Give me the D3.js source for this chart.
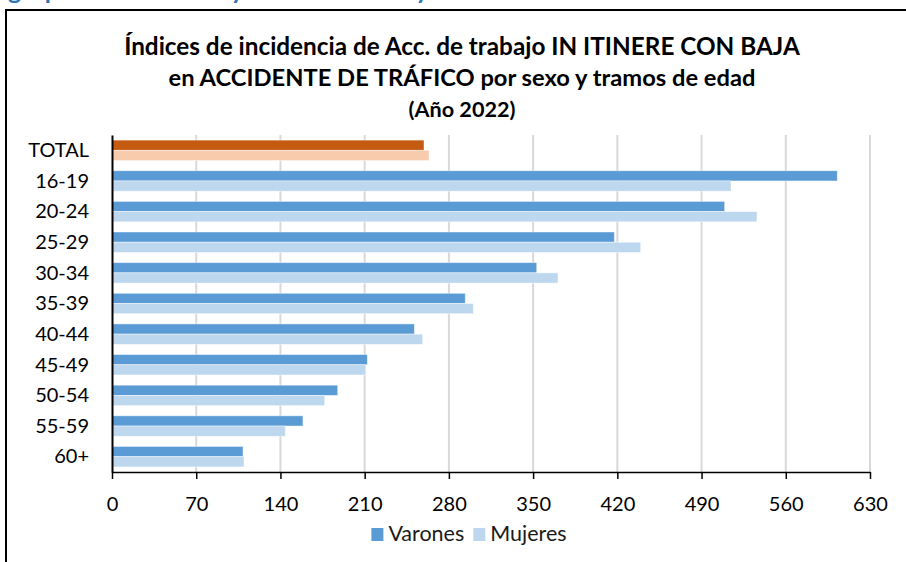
<!DOCTYPE html>
<html lang="es">
<head>
<meta charset="utf-8">
<script src="https://cdn.jsdelivr.net/npm/d3@7"></script>
<style>
  html, body { margin: 0; padding: 0; background: #fff; }
  svg { display: block; font-family: Lato, "Open Sans", sans-serif; }
</style>
</head>
<body>
<svg id="chart" width="906" height="562"></svg>
<script>
// Age groups (first row is the overall total)
const categories = ["TOTAL", "16-19", "20-24", "25-29", "30-34", "35-39", "40-44", "45-49", "50-54", "55-59", "60+"];
// Incidence indices, men
const varones = [259.3, 602.8, 509.2, 417.5, 353.0, 293.6, 251.3, 212.2, 187.6, 158.7, 108.9];
// Incidence indices, women
const mujeres = [263.5, 514.5, 536.1, 439.4, 370.7, 300.3, 258.2, 210.9, 176.8, 144.0, 109.7];
const seriesNames = ["Varones", "Mujeres"];
const xTicks = [0, 70, 140, 210, 280, 350, 420, 490, 560, 630];

const titleLines = [
  "Índices de incidencia de Acc. de trabajo IN ITINERE CON BAJA",
  "en ACCIDENTE DE TRÁFICO por sexo y tramos de edad",
  "(Año 2022)"
];
const headingText = "grupos de actividad y tramo de edad y sexo";

const colors = {
  Varones: "#5B9BD5",
  Mujeres: "#BDD7EE",
  totalVarones: "#C55A11",
  totalMujeres: "#F8CBAD"
};

const svg = d3.select("#chart");

// Section heading above the chart frame (only its descenders reach the page)
const heading = svg.append("text")
  .attr("x", 8)
  .attr("y", -1)
  .attr("fill", "#2E74B5")
  .attr("font-weight", 700)
  .attr("font-size", 25)
  .text(headingText);
{
  const node = heading.node();
  const lastY = headingText.lastIndexOf("y");
  const w = node.getSubStringLength(0, lastY + 1);
  if (w > 0) heading.attr("font-size", 25 * 420 / w);
}

// Chart frame
svg.append("rect")
  .attr("x", 6).attr("y", 10)
  .attr("width", 1000).attr("height", 1000)
  .attr("fill", "#fff")
  .attr("stroke", "#000")
  .attr("stroke-width", 2);

// Title, each line fitted to its width
const titleSpecs = [
  { y: 55, size: 21, width: 676 },
  { y: 86, size: 21, width: 587 },
  { y: 117, size: 17, width: 107 }
];
titleLines.forEach((line, i) => {
  const s = titleSpecs[i];
  const t = svg.append("text")
    .attr("x", 462)
    .attr("y", s.y)
    .attr("text-anchor", "middle")
    .attr("font-weight", 700)
    .attr("font-size", s.size)
    .attr("fill", "#000")
    .text(line);
  const w = t.node().getComputedTextLength();
  if (w > 0) t.attr("font-size", s.size * s.width / w);
});

// Scales
const x = d3.scaleLinear().domain([0, 630]).range([112, 870]);
const y = d3.scaleBand().domain(categories).range([135, 472])
  .paddingInner(0.333).paddingOuter(0.1667);
const ySub = d3.scaleBand().domain(seriesNames).range([0, y.bandwidth()]);

// Vertical gridlines
svg.append("g")
  .selectAll("line")
  .data(xTicks.filter(d => d > 0))
  .join("line")
  .attr("x1", d => x(d)).attr("x2", d => x(d))
  .attr("y1", 135).attr("y2", 472)
  .attr("stroke", "#d9d9d9")
  .attr("stroke-width", 2);

// Bars
const rows = categories.map((c, i) => ({ cat: c, Varones: varones[i], Mujeres: mujeres[i] }));
const groups = svg.append("g")
  .selectAll("g")
  .data(rows)
  .join("g")
  .attr("transform", d => `translate(0,${y(d.cat)})`);

groups.selectAll("rect")
  .data(d => seriesNames.map(s => ({ cat: d.cat, series: s, value: d[s] })))
  .join("rect")
  .attr("x", x(0))
  .attr("y", d => ySub(d.series))
  .attr("width", d => x(d.value) - x(0))
  .attr("height", ySub.bandwidth())
  .attr("fill", d => d.cat === "TOTAL"
    ? (d.series === "Varones" ? colors.totalVarones : colors.totalMujeres)
    : colors[d.series])
  .attr("stroke", "#fff")
  .attr("stroke-opacity", 0.55)
  .attr("stroke-width", 0.8);

// Bottom axis
const xAxis = d3.axisBottom(x)
  .tickValues(xTicks)
  .tickSizeInner(7)
  .tickSizeOuter(0)
  .tickPadding(10);
const gx = svg.append("g")
  .attr("transform", "translate(0,472)")
  .call(xAxis);
gx.select(".domain").attr("stroke", "#000").attr("stroke-width", 1.5);
gx.selectAll(".tick line").attr("stroke", "#000").attr("stroke-width", 1.5);
gx.selectAll(".tick text")
  .attr("font-family", "Lato, 'Open Sans', sans-serif")
  .attr("font-size", 20)
  .attr("fill", "#000")
  .attr("dy", null)
  .attr("y", 39);

// Left axis
const yAxis = d3.axisLeft(y).tickSize(0).tickPadding(23);
const gy = svg.append("g")
  .attr("transform", "translate(112,0)")
  .call(yAxis);
gy.select(".domain").attr("stroke", "#000").attr("stroke-width", 2);
gy.selectAll(".tick text")
  .attr("font-family", "Lato, 'Open Sans', sans-serif")
  .attr("font-size", 20)
  .attr("fill", "#000")
  .attr("dy", "0.34em");

// Legend
const legend = svg.append("g");
let lx = 0;
seriesNames.forEach((name) => {
  const g = legend.append("g").attr("transform", `translate(${lx},0)`);
  g.append("rect")
    .attr("x", 0).attr("y", -13)
    .attr("width", 12).attr("height", 13)
    .attr("fill", colors[name]);
  const t = g.append("text")
    .attr("x", 17).attr("y", 0)
    .attr("font-size", 21.5)
    .attr("fill", "#1a1a1a")
    .text(name);
  lx += 17 + t.node().getComputedTextLength() + 9;
});
const legendWidth = lx - 9;
legend.attr("transform", `translate(${469 - legendWidth / 2},541)`);
</script>
</body>
</html>
